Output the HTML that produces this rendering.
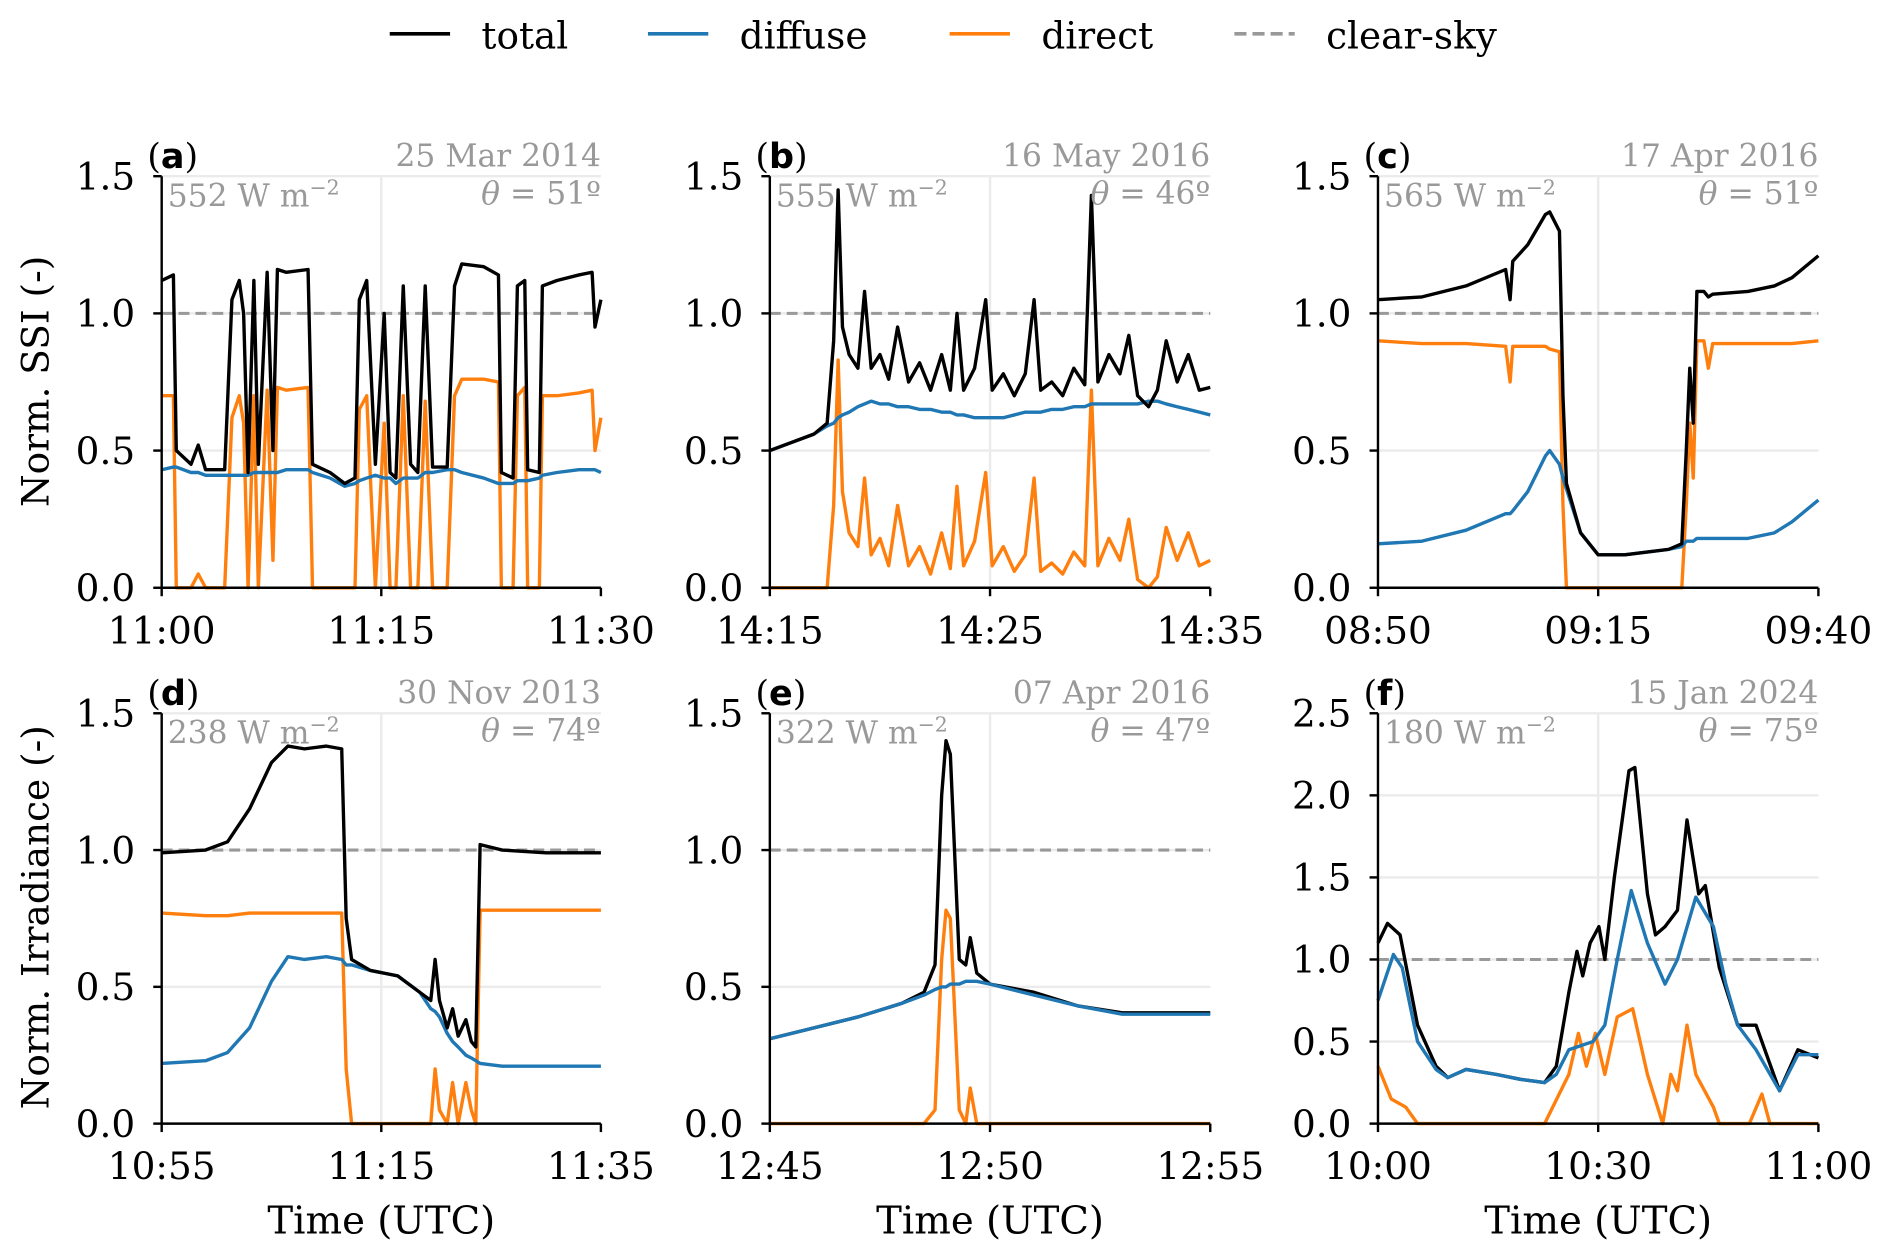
<!DOCTYPE html>
<html><head><meta charset="utf-8"><style>
html,body{margin:0;padding:0;background:#fff;}
svg{display:block;}
text{font-family:"DejaVu Serif","Liberation Serif",serif;}
</style></head><body>
<svg id="chart" width="1892" height="1260" viewBox="0 0 1568 1044" preserveAspectRatio="none" xmlns="http://www.w3.org/2000/svg">
<g>
  <g><line x1="323" y1="28" x2="373" y2="28" stroke="#000" stroke-width="3"/><text x="399" y="40" font-size="31">total</text></g>
  <g><line x1="537" y1="28" x2="587" y2="28" stroke="#1f77b4" stroke-width="3"/><text x="613" y="40" font-size="31">diffuse</text></g>
  <g><line x1="787" y1="28" x2="837" y2="28" stroke="#ff7f0e" stroke-width="3"/><text x="863" y="40" font-size="31">direct</text></g>
  <g><line x1="1023" y1="28" x2="1073" y2="28" stroke="#999" stroke-width="3" stroke-dasharray="10,5"/><text x="1099" y="40" font-size="31">clear-sky</text></g>
</g>
<text transform="translate(40,316) rotate(-90)" text-anchor="middle" font-size="31">Norm. SSI (-)</text>
<text transform="translate(40,760) rotate(-90)" text-anchor="middle" font-size="31">Norm. Irradiance (-)</text>
</svg>
<script>
// Panel a (minutes after 11:00)
const aTime=[0,0.8,1.0,2.0,2.5,3.0,4.3,4.8,5.3,5.6,5.9,6.3,6.6,7.2,7.6,7.9,8.5,10.0,10.3,11.5,12.5,13.2,13.5,14.0,14.6,15.2,15.6,16.0,16.5,17.0,17.5,18.0,18.5,19.5,20.0,20.5,22.0,23.0,23.2,24.0,24.3,24.8,25.0,25.8,26.0,27.0,28.5,29.4,29.6,30];
const aTotal=[1.12,1.14,0.50,0.45,0.52,0.43,0.43,1.05,1.12,1.0,0.42,1.12,0.45,1.15,0.5,1.16,1.15,1.16,0.45,0.42,0.38,0.40,1.05,1.12,0.45,1.0,0.42,0.40,1.1,0.45,0.42,1.10,0.44,0.44,1.1,1.18,1.17,1.14,0.42,0.40,1.10,1.12,0.43,0.42,1.1,1.12,1.14,1.15,0.95,1.05];
const aDiffuse=[0.43,0.44,0.44,0.42,0.42,0.41,0.41,0.41,0.41,0.41,0.41,0.42,0.42,0.42,0.42,0.42,0.43,0.43,0.42,0.4,0.37,0.38,0.39,0.40,0.41,0.40,0.40,0.38,0.40,0.40,0.40,0.42,0.42,0.43,0.43,0.42,0.40,0.38,0.38,0.38,0.39,0.39,0.39,0.40,0.41,0.42,0.43,0.43,0.43,0.42];
const aDirect=[0.70,0.70,0.0,0.0,0.05,0.0,0.0,0.62,0.70,0.6,0.0,0.7,0.0,0.72,0.1,0.73,0.72,0.73,0.0,0.0,0.0,0.0,0.65,0.70,0.0,0.6,0.0,0.0,0.7,0.0,0.0,0.68,0.0,0.0,0.7,0.76,0.76,0.75,0.0,0.0,0.7,0.73,0.0,0.0,0.7,0.70,0.71,0.72,0.5,0.62];
// Panel b (minutes after 14:15)
const bTime=[0,1,2,2.6,2.9,3.1,3.3,3.6,4.0,4.3,4.6,5.0,5.4,5.8,6.3,6.8,7.3,7.8,8.2,8.5,8.8,9.3,9.8,10.1,10.6,11.1,11.6,12.0,12.3,12.8,13.3,13.8,14.3,14.6,14.9,15.4,15.9,16.3,16.7,17.2,17.6,18.0,18.5,19.0,19.5,20];
const bTotal=[0.50,0.53,0.56,0.60,0.9,1.45,0.95,0.85,0.80,1.08,0.80,0.85,0.76,0.95,0.75,0.82,0.72,0.85,0.72,1.0,0.72,0.80,1.05,0.72,0.78,0.7,0.78,1.05,0.72,0.75,0.70,0.80,0.74,1.43,0.75,0.85,0.78,0.92,0.70,0.66,0.72,0.9,0.75,0.85,0.72,0.73];
const bDiffuse=[0.50,0.53,0.56,0.59,0.60,0.62,0.63,0.64,0.66,0.67,0.68,0.67,0.67,0.66,0.66,0.65,0.65,0.64,0.64,0.63,0.63,0.62,0.62,0.62,0.62,0.63,0.64,0.64,0.64,0.65,0.65,0.66,0.66,0.67,0.67,0.67,0.67,0.67,0.67,0.68,0.68,0.67,0.66,0.65,0.64,0.63];
const bDirect=[0,0,0,0.0,0.3,0.83,0.35,0.2,0.15,0.4,0.12,0.18,0.08,0.3,0.08,0.15,0.05,0.2,0.07,0.37,0.08,0.17,0.42,0.08,0.15,0.06,0.12,0.4,0.06,0.09,0.05,0.13,0.08,0.72,0.08,0.18,0.1,0.25,0.03,0.0,0.04,0.22,0.1,0.2,0.08,0.1];
// Panel c (minutes after 08:50)
const cTime=[0,5,10,14.5,15.0,15.3,17,19,19.5,20.6,21.0,21.4,23,25,28,33,34.5,35,35.4,35.8,36.2,37,37.5,38,42,45,47,50];
const cTotal=[1.05,1.06,1.10,1.16,1.05,1.19,1.25,1.36,1.37,1.30,0.70,0.38,0.20,0.12,0.12,0.14,0.16,0.5,0.8,0.6,1.08,1.08,1.06,1.07,1.08,1.10,1.13,1.21];
const cDiffuse=[0.16,0.17,0.21,0.27,0.27,0.28,0.35,0.48,0.50,0.45,0.40,0.36,0.20,0.12,0.12,0.14,0.15,0.17,0.17,0.17,0.18,0.18,0.18,0.18,0.18,0.20,0.24,0.32];
const cDirect=[0.90,0.89,0.89,0.88,0.75,0.88,0.88,0.88,0.87,0.86,0.3,0.0,0,0,0,0,0.0,0.3,0.6,0.4,0.9,0.9,0.80,0.89,0.89,0.89,0.89,0.90];
// Panel d (minutes after 10:55)
const dTime=[0,4,6,8,10,11.5,13,15,16.4,16.8,17.3,19,21.5,23.5,24.5,24.9,25.3,26,26.5,27,27.7,28.2,28.6,29,31,35,40];
const dTotal=[0.99,1.0,1.03,1.15,1.32,1.38,1.37,1.38,1.37,0.75,0.60,0.56,0.54,0.48,0.45,0.60,0.45,0.35,0.42,0.32,0.38,0.30,0.28,1.02,1.0,0.99,0.99];
const dDiffuse=[0.22,0.23,0.26,0.35,0.52,0.61,0.60,0.61,0.60,0.58,0.58,0.56,0.54,0.48,0.42,0.41,0.39,0.33,0.30,0.28,0.25,0.24,0.23,0.22,0.21,0.21,0.21];
const dDirect=[0.77,0.76,0.76,0.77,0.77,0.77,0.77,0.77,0.77,0.2,0.0,0,0,0,0.0,0.2,0.05,0.0,0.15,0.0,0.15,0.05,0.0,0.78,0.78,0.78,0.78];
// Panel e (minutes after 12:45)
const eTime=[0,1,2,3,3.5,3.75,3.9,4.0,4.1,4.3,4.45,4.55,4.7,5,6,7,8,10];
const eTotal=[0.31,0.35,0.39,0.44,0.48,0.58,1.2,1.4,1.35,0.6,0.58,0.68,0.55,0.51,0.48,0.43,0.405,0.405];
const eDiffuse=[0.31,0.35,0.39,0.44,0.47,0.49,0.50,0.50,0.51,0.51,0.52,0.52,0.52,0.51,0.47,0.43,0.40,0.40];
const eDirect=[0,0,0,0,0.0,0.05,0.6,0.78,0.75,0.05,0.0,0.13,0.0,0,0,0,0,0];
// Panel f (minutes after 10:00)
const fTimeTotal=[0,1.3,3,5.4,7.9,9.5,12,16.1,19.4,22.7,24.3,26,27.1,27.9,28.9,30.1,30.9,32.2,34.2,35,36.7,37.8,39.1,40.8,42.1,43.7,44.6,46.5,49,51.5,53.9,54.7,57.2,60];
const fTotal=[1.1,1.22,1.15,0.6,0.35,0.28,0.33,0.3,0.27,0.25,0.35,0.8,1.05,0.9,1.1,1.2,1.0,1.5,2.15,2.17,1.4,1.15,1.2,1.3,1.85,1.4,1.45,0.95,0.6,0.6,0.3,0.2,0.45,0.4];
const fTimeDiffuse=[0,2.1,3.3,5.4,7.9,9.5,12,16.1,19.4,22.7,24.3,26,29.3,30.9,32.6,34.5,36.7,39.1,40.8,43.3,45.7,47.4,49,51.5,54.7,57.2,60];
const fDiffuse=[0.75,1.03,0.95,0.5,0.33,0.28,0.33,0.3,0.27,0.25,0.3,0.45,0.5,0.6,1.0,1.42,1.1,0.85,1.0,1.38,1.2,0.85,0.6,0.45,0.2,0.42,0.42];
const fTimeDirect=[0,1.8,3.8,5.4,22.7,26,27.3,28.4,29.6,30.9,32.6,34.7,36.7,38.8,39.9,40.8,42.1,43.3,45.7,46.5,50.6,52.3,53.4,60];
const fDirect=[0.35,0.15,0.1,0,0,0.3,0.55,0.35,0.55,0.3,0.65,0.7,0.3,0,0.3,0.2,0.6,0.3,0.1,0,0,0.18,0,0];

const NS='http://www.w3.org/2000/svg';
const svg=document.getElementById('chart');
function mk(tag,attrs,parent){const e=document.createElementNS(NS,tag);for(const k in attrs)e.setAttribute(k,attrs[k]);(parent||svg).appendChild(e);return e;}

const panels=[
 {id:'a',x0:134,x1:498,yT:146,yB:487,tmax:30,ymax:1.5,yt:[0,0.5,1.0,1.5],xl:['11:00','11:15','11:30'],date:'25 Mar 2014',irr:'552',th:'51',
  series:[[aTime,aDirect,'#ff7f0e','direct'],[aTime,aDiffuse,'#1f77b4','diffuse'],[aTime,aTotal,'#000','total']]},
 {id:'b',x0:638,x1:1003,yT:146,yB:487,tmax:20,ymax:1.5,yt:[0,0.5,1.0,1.5],xl:['14:15','14:25','14:35'],date:'16 May 2016',irr:'555',th:'46',
  series:[[bTime,bDirect,'#ff7f0e','direct'],[bTime,bDiffuse,'#1f77b4','diffuse'],[bTime,bTotal,'#000','total']]},
 {id:'c',x0:1142,x1:1507,yT:146,yB:487,tmax:50,ymax:1.5,yt:[0,0.5,1.0,1.5],xl:['08:50','09:15','09:40'],date:'17 Apr 2016',irr:'565',th:'51',
  series:[[cTime,cDirect,'#ff7f0e','direct'],[cTime,cDiffuse,'#1f77b4','diffuse'],[cTime,cTotal,'#000','total']]},
 {id:'d',x0:134,x1:498,yT:591,yB:931,tmax:40,ymax:1.5,yt:[0,0.5,1.0,1.5],xl:['10:55','11:15','11:35'],date:'30 Nov 2013',irr:'238',th:'74',
  series:[[dTime,dDirect,'#ff7f0e','direct'],[dTime,dDiffuse,'#1f77b4','diffuse'],[dTime,dTotal,'#000','total']]},
 {id:'e',x0:638,x1:1003,yT:591,yB:931,tmax:10,ymax:1.5,yt:[0,0.5,1.0,1.5],xl:['12:45','12:50','12:55'],date:'07 Apr 2016',irr:'322',th:'47',
  series:[[eTime,eDirect,'#ff7f0e','direct'],[eTime,eTotal,'#000','total'],[eTime,eDiffuse,'#1f77b4','diffuse']]},
 {id:'f',x0:1142,x1:1507,yT:591,yB:931,tmax:60,ymax:2.5,yt:[0,0.5,1.0,1.5,2.0,2.5],xl:['10:00','10:30','11:00'],date:'15 Jan 2024',irr:'180',th:'75',
  series:[[fTimeDirect,fDirect,'#ff7f0e','direct'],[fTimeTotal,fTotal,'#000','total'],[fTimeDiffuse,fDiffuse,'#1f77b4','diffuse']]}
];

panels.forEach(p=>{
  const g=mk('g',{});
  
  
  const xs=t=>p.x0+(t/p.tmax)*(p.x1-p.x0);
  const ys=v=>p.yB-(v/p.ymax)*(p.yB-p.yT);
  p.yt.forEach(v=>{ if(v>0){const l=mk('line',{x1:p.x0,x2:p.x1,y1:ys(v),y2:ys(v),stroke:'#ebebeb','stroke-width':2},g);
    
    }});
  const gm=mk('line',{x1:xs(p.tmax/2),x2:xs(p.tmax/2),y1:p.yT,y2:p.yB,stroke:'#ebebeb','stroke-width':2},g);
  
  
  const cs=mk('line',{x1:p.x0,x2:p.x1,y1:ys(1),y2:ys(1),stroke:'#999','stroke-width':2.5,'stroke-dasharray':'9,5'},g);
  
  
  p.series.forEach(s=>{
    const pts=s[0].map((t,i)=>xs(t).toFixed(1)+','+ys(s[1][i]).toFixed(1)).join(' ');
    const pl=mk('polyline',{points:pts,fill:'none',stroke:s[2],'stroke-width':2.8,'stroke-linejoin':'round'},g);
    
    
  });
  const ax=mk('path',{d:`M${p.x0},${p.yT} V${p.yB} H${p.x1}`,fill:'none',stroke:'#000','stroke-width':2},g);
  
  
  p.yt.forEach(v=>{
    mk('line',{x1:p.x0-7,x2:p.x0,y1:ys(v),y2:ys(v),stroke:'#000','stroke-width':2},g);
    const t=mk('text',{x:p.x0-22,y:ys(v)+11,'text-anchor':'end','font-size':31},g);
    t.textContent=v.toFixed(1);
    
    
  });
  p.xl.forEach((lab,i)=>{
    const x=xs(p.tmax*i/2);
    mk('line',{x1:x,x2:x,y1:p.yB,y2:p.yB+7,stroke:'#000','stroke-width':2},g);
    const t=mk('text',{x:x,y:p.yB+46,'text-anchor':'middle','font-size':31},g);
    t.textContent=lab;
    
    
  });
  if(p.yT>300){
    const t=mk('text',{x:(p.x0+p.x1)/2,y:1022,'text-anchor':'middle','font-size':32},g);
    t.textContent='Time (UTC)';
    
    
  }
  const lt=mk('text',{x:p.x0-12,y:p.yT-7,'font-size':29},g);
  lt.innerHTML='(<tspan font-weight="bold" font-family="DejaVu Sans, sans-serif">'+p.id+'</tspan>)';
  
  
  const dt=mk('text',{x:p.x1,y:p.yT-8,'text-anchor':'end','font-size':26,fill:'#999'},g);
  dt.textContent=p.date;
  
  
  const ir=mk('text',{x:p.x0+5,y:p.yT+25,'font-size':26,fill:'#999'},g);
  ir.innerHTML=p.irr+' W m<tspan dy="-10" font-size="17">−2</tspan>';
  
  
  const th=mk('text',{x:p.x1,y:p.yT+23,'text-anchor':'end','font-size':26,fill:'#999'},g);
  th.innerHTML='<tspan font-style="italic">θ</tspan> = '+p.th+'º';
  
  
});
</script>
</body></html>
